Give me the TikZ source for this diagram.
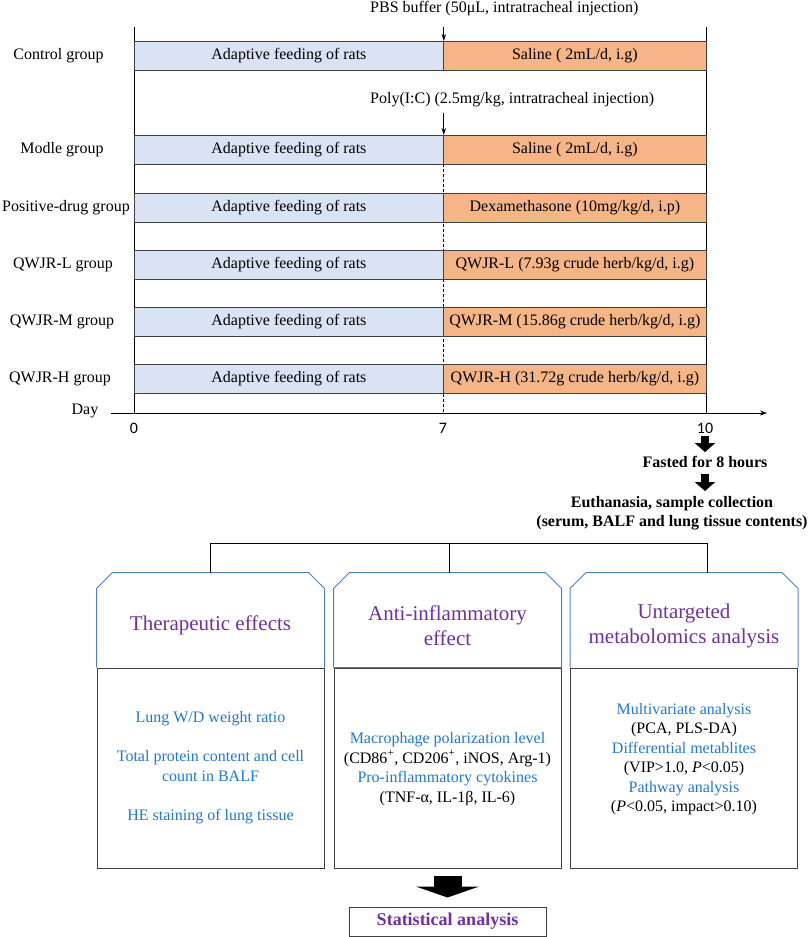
\documentclass[tikz,border=0pt]{standalone}
\usepackage{fontspec}
\setmainfont{Liberation Serif}
\newfontfamily\tickfont{Carlito}
\usetikzlibrary{arrows.meta,calc}
\definecolor{barblue}{HTML}{DAE3F3}
\definecolor{barorange}{HTML}{F6B587}
\definecolor{titlepurple}{HTML}{7030A0}
\definecolor{textblue}{RGB}{32,120,210}
\definecolor{boxblue}{HTML}{4F81BD}
\definecolor{linegray}{HTML}{404040}
\begin{document}
\begin{tikzpicture}[x=1pt,y=-1pt,
  lbl/.style={font=\fontsize{16}{19.3}\selectfont, inner sep=0pt},
  bld/.style={font=\fontsize{16}{19}\selectfont\bfseries, inner sep=0pt},
  tick/.style={font=\fontsize{16}{19}\tickfont, inner sep=0pt},
  feed/.style={draw=linegray, line width=0.8pt, fill=barblue, minimum width=309pt,
    minimum height=29pt, inner sep=0pt, anchor=north west, font=\fontsize{16}{19}\selectfont},
  treat/.style={feed, fill=barorange, minimum width=263pt},
  frame/.style={draw=black, line width=0.8pt},
  thinarrow/.style={draw=black, line width=0.8pt, -{Stealth[length=7pt,width=4.5pt]}},
  blk/.style={draw=black, line width=8pt, -{Triangle[width=20pt,length=9pt]}},
  bigarr/.style={draw=black, line width=28pt, -{Triangle[width=63pt,length=11pt]}},
  lowbox/.style={draw=linegray, line width=1pt, minimum width=227pt, minimum height=200pt, inner sep=0pt},
  headline/.style={draw=boxblue, line width=1pt},
  title/.style={font=\fontsize{21}{25}\selectfont, text=titlepurple, align=center, inner sep=0pt},
  btext/.style={font=\fontsize{16}{19.5}\selectfont, text=textblue, align=center, inner sep=0pt},
  statbox/.style={draw=linegray, line width=1pt, minimum width=197pt, minimum height=29pt, inner sep=0pt,
    font=\fontsize{18}{20}\selectfont\bfseries, text=titlepurple},
  conn/.style={draw=black, line width=1pt}
]
\useasboundingbox (0,0) rectangle (809,937);

% timeline frame
\draw[frame] (134,27) -- (134,413);
\draw[frame] (706,27) -- (706,413);
\draw[frame, dashed, dash pattern=on 3pt off 2pt] (443,164) -- (443,413);

% bars
\node[feed]  (fc) at (134,41)  {Adaptive feeding of rats};
\node[treat] (tc) at (443,41)  {Saline ( 2mL/d, i.g)};
\node[feed]  (fm) at (134,135) {Adaptive feeding of rats};
\node[treat] (tm) at (443,135) {Saline ( 2mL/d, i.g)};
\node[feed]  (fp) at (134,193) {Adaptive feeding of rats};
\node[treat] (tp) at (443,193) {Dexamethasone (10mg/kg/d, i.p)};
\node[feed]  (fl) at (134,250) {Adaptive feeding of rats};
\node[treat] (tl) at (443,250) {QWJR-L (7.93g crude herb/kg/d, i.g)};
\node[feed]  (fmm) at (134,307) {Adaptive feeding of rats};
\node[treat] (tmm) at (443,307) {QWJR-M (15.86g crude herb/kg/d, i.g)};
\node[feed]  (fh) at (134,364) {Adaptive feeding of rats};
\node[treat] (th) at (443,364) {QWJR-H (31.72g crude herb/kg/d, i.g)};

% group labels
\node[lbl] (gc) at (58.5,55.5)  {Control group};
\node[lbl] (gm) at (62,149.5)   {Modle group};
\node[lbl] (gp) at (66,207.5)   {Positive-drug group};
\node[lbl] (gl) at (63,264.5)   {QWJR-L group};
\node[lbl] (gmm) at (62,321.5)  {QWJR-M group};
\node[lbl] (gh) at (60,378.5)   {QWJR-H group};

% injections
\node[lbl, anchor=west] (pbs) at (370,9) {PBS buffer (50μL, intratracheal injection)};
\draw[thinarrow] ($(fc.north east)+(0,-14)$) -- (fc.north east);
\node[lbl, anchor=west] (poly) at (370,100) {Poly(I:C) (2.5mg/kg, intratracheal injection)};
\draw[thinarrow] ($(fm.north east)+(0,-22)$) -- (fm.north east);

% axis
\draw[frame, -{Stealth[length=7pt,width=5pt]}] (111,413) -- (767,413);
\node[lbl] (day) at (85,411) {Day};
\node[tick] (t0) at (134,428) {0};
\node[tick] (t7) at (443,428) {7};
\node[tick] (t10) at (705,428) {10};

% sampling
\node[bld] (fast) at (705,462) {Fasted for 8 hours};
\draw[blk, shorten <=3pt, shorten >=4pt] (t10) -- (fast);
\node[bld, align=center, anchor=north] (euth) at (672,496)
  {Euthanasia, sample collection\\(serum, BALF and lung tissue contents)};
\draw[blk, shorten <=6pt, shorten >=5pt] (fast.south) -- (fast.south |- euth.north);

% analysis boxes
\node[lowbox] (b1) at (210.5,768) {};
\node[lowbox] (b2) at (447.5,768) {};
\node[lowbox] (b3) at (684,768) {};
\foreach \b in {b1,b2,b3}{
  \draw[headline] (\b.north west) -- ++(0,-79) -- ++(16,-16) -- ($(\b.north east)+(-16,-95)$)
     -- ++(16,16) -- (\b.north east);
}
\draw[headline] (b2.north west) -- (b2.north east);
\coordinate (h1) at ($(b1.north)+(0,-95)$);
\coordinate (h2) at ($(b2.north)+(0,-95)$);

\node[title] (ti1) at (210.5,625) {Therapeutic effects};
\node[title] (ti2) at (447.5,625.5) {Anti-inflammatory\\effect};
\node[title] (ti3) at (684,625.5) {Untargeted\\metabolomics analysis};

% bracket
\coordinate (br) at (449,543);
\coordinate (brR) at (707,543);
\coordinate (h3) at (brR |- h2);
\draw[conn] (h1) -- (h1 |- br) -- (brR) -- (h3);
\draw[conn] (br) -- (br |- h2);

% box texts
\node[btext] (x1) at (210.5,767.5) {Lung W/D weight ratio\\[19.5pt]Total protein content and cell\\count in BALF\\[19.5pt]HE staining of lung tissue};
\node[btext] (x2) at (447.5,769) {Macrophage polarization level\\
  \textcolor{black}{(CD86\textsuperscript{+}, CD206\textsuperscript{+}, iNOS, Arg-1)}\\
  Pro-inflammatory cytokines\\
  \textcolor{black}{(TNF-α, IL-1β, IL-6)}};
\node[btext] (x3) at (684,759) {Multivariate analysis\\
  \textcolor{black}{(PCA, PLS-DA)}\\
  Differential metablites\\
  \textcolor{black}{(VIP>1.0, \textit{P}<0.05)}\\
  Pathway analysis\\
  \textcolor{black}{(\textit{P}<0.05, impact>0.10)}};

% statistics
\node[statbox] (stat) at (447.5,921.5) {Statistical analysis};
\draw[bigarr, shorten <=7pt, shorten >=9pt] (b2.south) -- (stat.north);
\end{tikzpicture}
\end{document}
